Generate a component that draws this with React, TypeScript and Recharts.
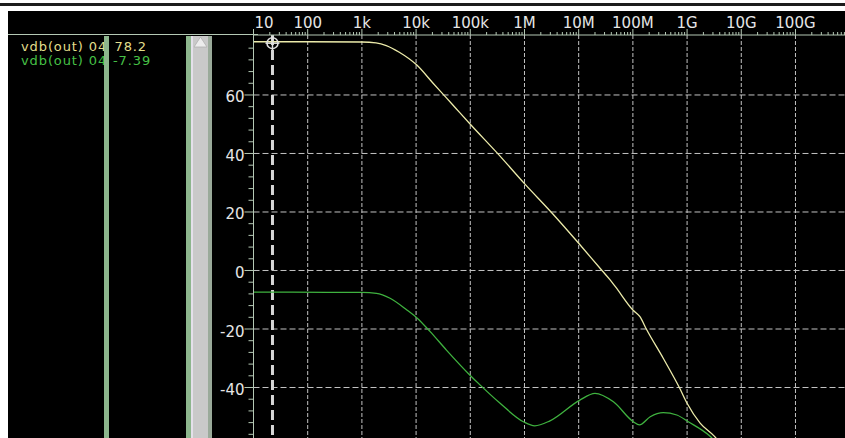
import React from 'react'
import { LineChart, Line, XAxis, YAxis, ReferenceLine, ReferenceDot } from 'recharts'

// frequency (Hz) / magnitude (dB)
const yellowFreq = [
  10, 100, 1000, 1820, 2820, 4900, 10200, 20400, 36300, 55000, 100000, 331000, 1000000,
  3310000, 10000000, 26900000, 38000000, 47900000, 100000000, 135000000, 178000000,
  363000000, 724000000, 1000000000, 1740000000, 3240000000, 4470000000,
]
const yellowDb = [
  78.2, 78.2, 78.1, 77.8, 76.9, 74.6, 70.3, 64.1, 59.0, 55.3, 50.0, 39.7, 29.7, 19.4, 9.3, 0,
  -3.2, -5.6, -13.5, -15.8, -20.1, -30, -40.1, -45.4, -52.2, -56.8, -60,
]
const greenFreq = [
  10, 224, 1000, 1860, 3310, 6760, 10500, 18200, 36300, 97700, 151000, 355000, 955000,
  1550000, 2950000, 10500000, 20000000, 43700000, 102000000, 132000000, 209000000,
  363000000, 646000000, 1050000000, 2630000000, 4000000000,
]
const greenDb = [
  -7.39, -7.45, -7.5, -7.8, -9.5, -13.5, -16.3, -20.9, -27.2, -35.7, -39.1, -45.4, -51.7,
  -53.1, -51.4, -44.3, -42.0, -44.9, -51.7, -52.8, -50, -48.6, -49.4, -51.7, -56.6, -60,
]

const xDecades = [10, 100, 1e3, 1e4, 1e5, 1e6, 1e7, 1e8, 1e9, 1e10, 1e11]
const xLabels = ['10', '100', '1k', '10k', '100k', '1M', '10M', '100M', '1G', '10G', '100G']
const xMax = 8.2e11
const yMajor = [-40, -20, 0, 20, 40, 60]
const yMinor = [-56, -52, -48, -44, -36, -32, -28, -24, -16, -12, -8, -4, 4, 8, 12, 16, 24, 28, 32, 36, 44, 48, 52, 56, 64, 68, 72, 76]
const cursorFreq = 22.4
const cursorDb = 77.7
const legend = [
  { name: 'vdb(out) 04', value: '78.2', color: '#e2de8c' },
  { name: 'vdb(out) 04', value: '-7.39', color: '#46c046' },
]

const yellowData = yellowFreq.map((f, i) => ({ f, db: yellowDb[i] }))
const greenData = greenFreq.map((f, i) => ({ f, db: greenDb[i] }))

const xTicks: number[] = []
xDecades.forEach((d) => {
  xTicks.push(d)
  for (let k = 2; k <= 9; k++) if (d * k < xMax) xTicks.push(d * k)
})
const yTicks = [...yMajor, ...yMinor].sort((a, b) => a - b)

const axisColor = '#b4c8b4'
const gridColor = '#c2c2c2'
const textColor = '#e6e6e6'
const font = '"DejaVu Sans", sans-serif'

const XTick = (props: any) => {
  const { x, y, payload } = props
  const i = xDecades.indexOf(payload.value)
  const major = i >= 0
  return (
    <g>
      <line x1={x} x2={x} y1={y} y2={y - (major ? 6 : 3)} stroke={axisColor} />
      {major && (
        <text
          x={i === 0 ? x + 1 : x}
          y={y - 7}
          textAnchor={i === 0 ? 'start' : 'middle'}
          fill={textColor}
          fontSize={15}
          fontFamily={font}
        >
          {xLabels[i]}
        </text>
      )}
    </g>
  )
}

const YTick = (props: any) => {
  const { x, y, payload } = props
  const major = yMajor.includes(payload.value)
  return (
    <g>
      <line x1={x - (major ? 9 : 5)} x2={x} y1={y} y2={y} stroke={axisColor} />
      {major && (
        <text x={x - 9} y={y + 7.5} textAnchor="end" fill={textColor} fontSize={15} fontFamily={font}>
          {payload.value}
        </text>
      )}
    </g>
  )
}

const Crosshair = (props: any) => {
  const { cx, cy } = props
  return (
    <g stroke="#e0e0e0" strokeWidth={1.5} fill="none">
      <circle cx={cx} cy={cy} r={5.5} />
      <line x1={cx - 7} x2={cx + 7} y1={cy} y2={cy} />
      <line x1={cx} x2={cx} y1={cy - 7} y2={cy + 7} />
    </g>
  )
}

const legendText = {
  position: 'absolute' as const,
  whiteSpace: 'nowrap' as const,
  fontFamily: font,
  fontSize: 13,
  letterSpacing: 0.9,
  lineHeight: '14px',
}

export default function App() {
  return (
    <div style={{ position: 'fixed', left: 0, top: 0, width: 845, height: 438, background: '#fff', overflow: 'hidden' }}>
      <div style={{ position: 'absolute', left: 0, top: 3, width: 845, height: 3, background: '#1c1c1c' }} />
      <div style={{ position: 'absolute', left: 8, top: 11, width: 837, height: 427, background: '#000' }} />
      <div style={{ position: 'absolute', left: 8, top: 34, width: 250, height: 1, background: axisColor }} />

      {legend.map((l, i) => (
        <React.Fragment key={i}>
          <div style={{ ...legendText, left: 21, top: 39.5 + i * 14.7, color: l.color }}>{l.name}</div>
          <div style={{ ...legendText, left: 113 + (i === 0 ? 1.5 : 0), top: 39.5 + i * 14.7, color: l.color }}>
            {l.value}
          </div>
        </React.Fragment>
      ))}

      <div style={{ position: 'absolute', left: 104, top: 36, width: 5, height: 402, background: '#8db68d' }} />
      <div style={{ position: 'absolute', left: 186, top: 36, width: 5, height: 402, background: '#8db68d' }} />
      <div style={{ position: 'absolute', left: 191, top: 36, width: 2, height: 402, background: '#e4e0ea' }} />
      <div style={{ position: 'absolute', left: 193, top: 36, width: 15, height: 402, background: '#c9c9c9' }} />
      <div style={{ position: 'absolute', left: 208, top: 36, width: 4, height: 402, background: '#9aaa9a' }} />
      <svg style={{ position: 'absolute', left: 193, top: 36 }} width={15} height={14}>
        <polygon points="7.5,1 14,11 1,11" fill="#ececec" stroke="#b0b0b0" strokeWidth={0.8} />
      </svg>

      <div style={{ position: 'absolute', left: 0, top: 0 }}>
        <LineChart width={845} height={438} margin={{ top: 11, right: 0, bottom: 0, left: 193.5 }}>
          <XAxis
            type="number"
            dataKey="f"
            scale="log"
            domain={[10, xMax]}
            allowDataOverflow
            orientation="top"
            height={24}
            ticks={xTicks}
            interval={0}
            tick={<XTick />}
            tickLine={false}
            tickSize={0}
            tickMargin={0}
            axisLine={{ stroke: axisColor }}
          />
          <YAxis
            type="number"
            dataKey="db"
            domain={[-57.26, 80.5]}
            allowDataOverflow
            width={60}
            ticks={yTicks}
            interval={0}
            tick={<YTick />}
            tickLine={false}
            tickSize={0}
            tickMargin={0}
            axisLine={{ stroke: axisColor }}
          />
          {xDecades.slice(1).map((d) => (
            <ReferenceLine key={'x' + d} x={d} stroke={gridColor} strokeDasharray="4 2" />
          ))}
          {yMajor.map((v) => (
            <ReferenceLine key={'y' + v} y={v} stroke={gridColor} strokeDasharray="6 3" />
          ))}
          <ReferenceLine x={cursorFreq} stroke="#d6d6d6" strokeWidth={3} strokeDasharray="10 5" />
          <Line
            data={yellowData}
            dataKey="db"
            type="monotone"
            stroke="#ecebaa"
            strokeWidth={1.3}
            dot={false}
            isAnimationActive={false}
          />
          <Line
            data={greenData}
            dataKey="db"
            type="monotone"
            stroke="#3fb23f"
            strokeWidth={1.3}
            dot={false}
            isAnimationActive={false}
          />
          <ReferenceDot x={cursorFreq} y={cursorDb} r={5.5} shape={<Crosshair />} />
        </LineChart>
      </div>
    </div>
  )
}
